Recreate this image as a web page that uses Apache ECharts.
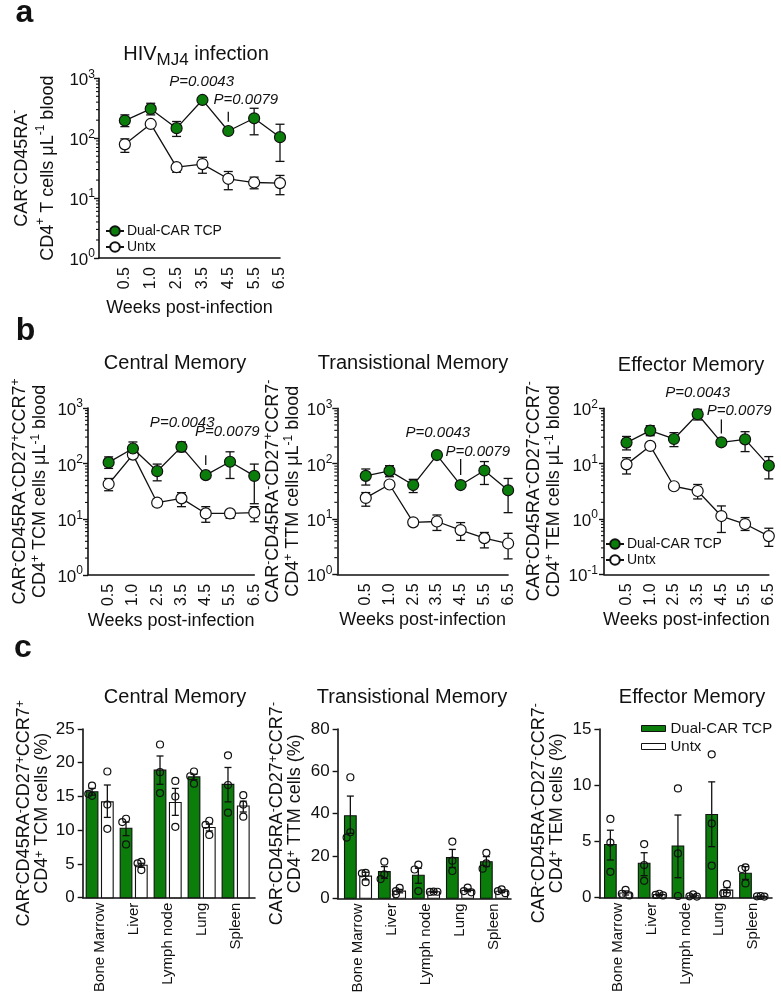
<!DOCTYPE html>
<html><head><meta charset="utf-8">
<script src="https://cdn.jsdelivr.net/npm/echarts@6/dist/echarts.min.js"></script>
<style>html,body{margin:0;padding:0;background:#fff}#c{width:781px;height:1000px}</style>
</head><body><div id="c"></div>
<script>
// ---------------- data ----------------
const weeks = ['0.5', '1.0', '2.5', '3.5', '4.5', '5.5', '6.5'];
const organs = ['Bone Marrow', 'Liver', 'Lymph node', 'Lung', 'Spleen'];
const pLabels = ['P=0.0043', 'P=0.0079'];

// a: HIV MJ4 infection, CAR- CD45RA- CD4+ T cells / uL blood (mean, SEM low, SEM high)
const aDual   = [197, 308, 147, 435, 132, 215, 104];
const aDualLo = [156, 245, 107, 405, 125, 114, 41];
const aDualHi = [245, 383, 190, 465, 140, 316, 171];
const aUntx   = [79, 173, 32.8, 37, 21, 18.2, 17.8];
const aUntxLo = [58, 160, 27, 26, 13.8, 14.3, 11.4];
const aUntxHi = [97.5, 188, 38, 48, 27.8, 22.4, 23.9];

// b: Central Memory
const bCmDual   = [105, 187, 73, 200, 62, 108, 60];
const bCmDualLo = [82, 132, 49, 163, 58, 54, 19];
const bCmDualHi = [132, 245, 98, 245, 66, 163, 98];
const bCmUntx   = [43, 145, 19.8, 23.7, 12.7, 12.7, 13.1];
const bCmUntxLo = [32.5, 135, 17, 16.8, 8.8, 10.4, 9];
const bCmUntxHi = [54, 155, 23, 30, 16.8, 14.2, 16.8];

// b: Transitional Memory
const bTmDual   = [60, 74, 41, 143, 41, 75, 33];
const bTmDualLo = [41, 58, 30, 134, 38, 42, 13];
const bTmDualHi = [80, 92, 52, 153, 44, 109, 54];
const bTmUntx   = [24, 42, 8.7, 9.0, 6.3, 4.5, 3.6];
const bTmUntxLo = [17, 38.5, 8.0, 6.2, 4.1, 3.0, 1.9];
const bTmUntxHi = [30, 45.5, 9.5, 11.8, 8.6, 5.7, 5.5];

// b: Effector Memory
const bEmDual   = [24, 39.5, 27.9, 78, 24.3, 27.5, 9.2];
const bEmDualLo = [17.7, 32, 20.3, 61.5, 22.8, 16.5, 5.3];
const bEmDualHi = [31, 48.6, 36.3, 96, 26, 37.8, 13.4];
const bEmUntx   = [9.7, 20.9, 3.9, 3.2, 1.13, 0.81, 0.49];
const bEmUntxLo = [6.5, 19.8, 3.7, 2.3, 0.57, 0.62, 0.32];
const bEmUntxHi = [12.8, 22, 4.1, 4.2, 1.72, 1.06, 0.68];

// c: Central Memory (% of CD4+)
const cCmDual   = [15.7, 10.3, 18.9, 17.9, 16.8];
const cCmDualLo = [15.2, 9.2, 16.8, 17.5, 14.2];
const cCmDualHi = [16.2, 11.2, 21.0, 18.3, 19.3];
const cCmDualPts = [[16.6, 15.1, 15.4], [11.7, 11.2, 7.9], [22.7, 18.6, 15.5], [18.7, 18.0, 16.9], [21.1, 16.7, 12.6]];
const cCmUntx   = [14.2, 4.8, 14.1, 10.4, 13.6];
const cCmUntxLo = [11.9, 4.5, 12.2, 9.9, 12.7];
const cCmUntxHi = [16.7, 5.1, 16.2, 10.9, 14.3];
const cCmUntxPts = [[18.7, 13.8, 10.2], [5.3, 5.1, 4.1], [17.3, 15.0, 10.5], [11.4, 10.8, 9.3], [15.2, 13.8, 12.0]];

// c: Transitional Memory
const cTmDual   = [39.0, 12.6, 10.9, 19.2, 17.3];
const cTmDualLo = [30.7, 9.4, 7.1, 14.6, 15.0];
const cTmDualHi = [48.3, 15.0, 14.2, 23.1, 19.7];
const cTmDualPts = [[57.2, 31.2, 28.7], [17.3, 11.3, 9.1], [15.9, 13.6, 3.4], [26.8, 17.8, 12.9], [21.5, 16.5, 14.0]];
const cTmUntx   = [10.5, 3.4, 3.1, 3.7, 3.3];
const cTmUntxLo = [8.7, 2.6, 2.8, 3.1, 2.7];
const cTmUntxHi = [12.3, 4.2, 3.4, 4.3, 3.9];
const cTmUntxPts = [[12.0, 11.8, 7.6], [4.9, 3.4, 1.9], [3.2, 3.0, 3.1], [5.0, 3.4, 2.8], [4.2, 3.4, 2.4]];

// c: Effector Memory
const cEmDual   = [4.73, 3.06, 4.6, 7.4, 2.17];
const cEmDualLo = [3.35, 1.96, 1.78, 4.54, 1.63];
const cEmDualHi = [6.0, 4.0, 7.35, 10.3, 2.76];
const cEmDualPts = [[7.0, 4.9, 2.3], [4.77, 2.9, 1.5], [9.72, 3.94, 0.15], [12.75, 6.6, 2.85], [2.7, 2.55, 1.27]];
const cEmUntx   = [0.42, 0.27, 0.17, 0.67, 0.12];
const cEmUntxLo = [0.24, 0.21, 0.09, 0.44, 0.09];
const cEmUntxHi = [0.6, 0.33, 0.25, 0.9, 0.15];
const cEmUntxPts = [[0.7, 0.35, 0.2], [0.35, 0.25, 0.2], [0.3, 0.12, 0.1], [1.2, 0.4, 0.4], [0.15, 0.12, 0.1]];

// ---------------- styling / helpers ----------------
const FONT = "'Liberation Sans', Arial, Helvetica, sans-serif";
const INK = '#111111';
const GREEN = '#0a7d0a';

function toRich(line) {
  let out = '', last = 0, m;
  const re = /\^\{([^}]*)\}/g;
  while ((m = re.exec(line))) {
    if (m.index > last) out += '{t|' + line.slice(last, m.index) + '}';
    out += '{s|' + m[1] + '}';
    last = re.lastIndex;
  }
  if (last < line.length) out += '{t|' + line.slice(last) + '}';
  return out;
}
function nameStyle(lh) {
  return {
    color: INK, fontFamily: FONT, fontSize: 18, lineHeight: lh,
    rich: {
      t: {color: INK, fontFamily: FONT, fontSize: 18, lineHeight: lh},
      s: {color: INK, fontFamily: FONT, fontSize: 12, lineHeight: lh - 10, verticalAlign: 'top'}
    }
  };
}
const axisLineStyle = {color: INK, width: 1.6};

const grids = [], xAxes = [], yAxes = [], series = [];

function errRender(cap) {
  return function (params, api) {
    const x = api.value(0);
    const pl = api.coord([x, api.value(1)]);
    const ph = api.coord([x, api.value(2)]);
    const st = {stroke: INK, lineWidth: 1.3};
    return {type: 'group', children: [
      {type: 'line', shape: {x1: pl[0], y1: pl[1], x2: ph[0], y2: ph[1]}, style: st},
      {type: 'line', shape: {x1: pl[0] - cap, y1: pl[1], x2: pl[0] + cap, y2: pl[1]}, style: st},
      {type: 'line', shape: {x1: ph[0] - cap, y1: ph[1], x2: ph[0] + cap, y2: ph[1]}, style: st}
    ]};
  };
}

function addTimePanel(p) {
  const gi = grids.length;
  grids.push(Object.assign({outerBoundsMode: 'none', containLabel: false}, p.grid));
  xAxes.push({
    type: 'value', gridIndex: gi, min: p.xMin, max: 6, interval: 0.05,
    axisLine: {show: true, onZero: false, lineStyle: axisLineStyle},
    axisTick: {show: false}, splitLine: {show: false}, minorTick: {show: false},
    axisLabel: {
      rotate: 90, margin: 9, fontSize: 16, color: INK, fontFamily: FONT,
      formatter: v => { const r = Math.round(v); return (Math.abs(v - r) < 1e-6 && r >= 0 && r < weeks.length) ? weeks[r] : ''; }
    },
    name: 'Weeks post-infection', nameLocation: 'middle', nameGap: p.xNameGap,
    nameTextStyle: {fontSize: 18, color: INK, fontFamily: FONT}
  });
  yAxes.push({
    type: 'log', logBase: 10, gridIndex: gi, min: p.yMin, max: p.yMax,
    axisLine: {show: true, onZero: false, lineStyle: axisLineStyle},
    axisTick: {show: true, length: 5, lineStyle: {color: INK, width: 1.4}},
    splitLine: {show: false},
    axisLabel: {
      margin: p.labelMargin, color: INK, fontFamily: FONT,
      formatter: v => '{b|10}{s|' + Math.round(Math.log10(v)) + '}',
      rich: {
        b: {fontSize: 17, color: INK, fontFamily: FONT, lineHeight: 20, padding: [5, 0, 0, 0]},
        s: {fontSize: 12, color: INK, fontFamily: FONT, lineHeight: 18, verticalAlign: 'top'}
      }
    },
    name: toRich(p.yName[0]) + '\n' + toRich(p.yName[1]),
    nameLocation: 'middle', nameRotate: 90, nameGap: p.nameGap,
    nameTextStyle: nameStyle(p.lh)
  });
  const idx = weeks.map((_, i) => i);
  // minor log ticks (axis decoration)
  const minor = [];
  for (let d = Math.round(Math.log10(p.yMin)); d < Math.round(Math.log10(p.yMax)); d++) {
    for (let k = 2; k <= 9; k++) minor.push([p.xMin, k * Math.pow(10, d)]);
  }
  series.push({
    type: 'custom', xAxisIndex: gi, yAxisIndex: gi, silent: true, z: 1, clip: false,
    encode: {x: 0, y: 1}, data: minor,
    renderItem: (params, api) => {
      const pt = api.coord([api.value(0), api.value(1)]);
      return {type: 'line', shape: {x1: pt[0] - 3, y1: pt[1], x2: pt[0], y2: pt[1]}, style: {stroke: INK, lineWidth: 1.1}};
    }
  });
  // error bars
  [[p.untxLo, p.untxHi], [p.dualLo, p.dualHi]].forEach(([lo, hi]) => {
    series.push({
      type: 'custom', xAxisIndex: gi, yAxisIndex: gi, silent: true, z: 2,
      encode: {x: 0, y: [1, 2]}, data: idx.map(i => [i, lo[i], hi[i]]),
      renderItem: errRender(4.5)
    });
  });
  series.push({
    type: 'line', name: 'Untx', xAxisIndex: gi, yAxisIndex: gi, silent: true, z: 3,
    data: p.untx.map((v, i) => [i, v]), symbol: 'circle', symbolSize: 11,
    itemStyle: {color: '#ffffff', borderColor: INK, borderWidth: 1.2},
    lineStyle: {color: INK, width: 1.3}, emphasis: {disabled: true}
  });
  series.push({
    type: 'line', name: 'Dual-CAR TCP', xAxisIndex: gi, yAxisIndex: gi, silent: true, z: 4,
    data: p.dual.map((v, i) => [i, v]), symbol: 'circle', symbolSize: 11,
    itemStyle: {color: GREEN, borderColor: INK, borderWidth: 1.2},
    lineStyle: {color: INK, width: 1.3}, emphasis: {disabled: true}
  });
  // p-value annotation
  series.push({
    type: 'custom', xAxisIndex: gi, yAxisIndex: gi, silent: true, z: 5, clip: false,
    encode: {x: 0, y: 1}, data: p.pText,
    renderItem: (params, api) => {
      const pt = api.coord([api.value(0), api.value(1)]);
      return {type: 'text', x: pt[0], y: pt[1], style: {
        text: pLabels[params.dataIndex], fontSize: 15, fontStyle: 'italic', fontFamily: FONT,
        fill: INK, align: 'center', verticalAlign: 'middle'}};
    }
  });
  series.push({
    type: 'custom', xAxisIndex: gi, yAxisIndex: gi, silent: true, z: 5, clip: false,
    encode: {x: 0, y: [1, 2]}, data: [p.pLine],
    renderItem: (params, api) => {
      const a = api.coord([api.value(0), api.value(1)]);
      const b = api.coord([api.value(0), api.value(2)]);
      return {type: 'line', shape: {x1: a[0], y1: a[1], x2: b[0], y2: b[1]}, style: {stroke: INK, lineWidth: 1.3}};
    }
  });
}

const BAR_W = 0.344, BAR_OFF = 0.225;

function dotData(pts, off, thr) {
  const out = [];
  pts.forEach((arr, i) => {
    const placed = [];
    arr.forEach(v => {
      const n = placed.filter(u => Math.abs(u - v) < thr).length;
      placed.push(v);
      out.push([i + 0.5 + off + [0, -0.11, 0.11, -0.2][Math.min(n, 3)], v]);
    });
  });
  return out;
}

function addBarPanel(p) {
  const gi = grids.length;
  grids.push(Object.assign({outerBoundsMode: 'none', containLabel: false}, p.grid));
  xAxes.push({
    type: 'value', gridIndex: gi, min: p.xMin, max: p.xMax, interval: 0.05,
    axisLine: {show: true, onZero: false, lineStyle: axisLineStyle},
    axisTick: {show: false}, splitLine: {show: false},
    axisLabel: {
      rotate: 90, margin: 5, fontSize: 15, color: INK, fontFamily: FONT,
      formatter: v => { const k = v - 0.5, r = Math.round(k); return (Math.abs(k - r) < 1e-6 && r >= 0 && r < organs.length) ? organs[r] : ''; }
    }
  });
  yAxes.push({
    type: 'value', gridIndex: gi, min: 0, max: p.yMax, interval: p.yInt,
    axisLine: {show: true, onZero: false, lineStyle: axisLineStyle},
    axisTick: {show: true, length: 5, lineStyle: {color: INK, width: 1.4}},
    splitLine: {show: false},
    axisLabel: {margin: 8, fontSize: 17, color: INK, fontFamily: FONT},
    name: toRich(p.yName[0]) + '\n' + toRich(p.yName[1]),
    nameLocation: 'middle', nameRotate: 90, nameGap: p.nameGap,
    nameTextStyle: nameStyle(p.lh)
  });
  const groups = [
    {mean: p.dual, lo: p.dualLo, hi: p.dualHi, pts: p.dualPts, off: -BAR_OFF, fill: GREEN},
    {mean: p.untx, lo: p.untxLo, hi: p.untxHi, pts: p.untxPts, off: BAR_OFF, fill: '#ffffff'}
  ];
  groups.forEach(g => {
    series.push({
      type: 'custom', xAxisIndex: gi, yAxisIndex: gi, silent: true, z: 2,
      encode: {x: 0, y: [1, 2, 3]},
      data: organs.map((_, i) => [i + 0.5 + g.off, g.mean[i], g.lo[i], g.hi[i]]),
      renderItem: (params, api) => {
        const x = api.value(0);
        const base = api.coord([x, 0]), top = api.coord([x, api.value(1)]);
        const w = api.size([BAR_W, 0])[0];
        const pl = api.coord([x, api.value(2)]), ph = api.coord([x, api.value(3)]);
        const st = {stroke: INK, lineWidth: 1.3}, cap = 3.5;
        return {type: 'group', children: [
          {type: 'rect', shape: {x: base[0] - w / 2, y: top[1], width: w, height: base[1] - top[1]},
            style: {fill: g.fill, stroke: INK, lineWidth: 1.1}},
          {type: 'line', shape: {x1: pl[0], y1: pl[1], x2: ph[0], y2: ph[1]}, style: st},
          {type: 'line', shape: {x1: pl[0] - cap, y1: pl[1], x2: pl[0] + cap, y2: pl[1]}, style: st},
          {type: 'line', shape: {x1: ph[0] - cap, y1: ph[1], x2: ph[0] + cap, y2: ph[1]}, style: st}
        ]};
      }
    });
  });
  groups.forEach(g => {
    series.push({
      type: 'custom', xAxisIndex: gi, yAxisIndex: gi, silent: true, z: 3, clip: false,
      encode: {x: 0, y: 1}, data: dotData(g.pts, g.off, p.yMax * 0.035),
      renderItem: (params, api) => {
        const pt = api.coord([api.value(0), api.value(1)]);
        return {type: 'circle', shape: {cx: pt[0], cy: pt[1], r: 3.5}, style: {fill: 'none', stroke: INK, lineWidth: 1.2}};
      }
    });
  });
}

// ---------------- panels ----------------
addTimePanel({
  grid: {left: 99, top: 78.3, width: 181, height: 179.7}, xMin: -1, yMin: 1, yMax: 1000,
  dual: aDual, dualLo: aDualLo, dualHi: aDualHi, untx: aUntx, untxLo: aUntxLo, untxHi: aUntxHi,
  yName: ['CAR^{-}CD45RA^{-}', 'CD4^{+} T cells \u03bcL^{-1} blood'], lh: 26, nameGap: 38, xNameGap: 41, labelMargin: 4,
  pText: [[2.97, 877], [4.68, 434]], pLine: [4, 188, 277]
});
addTimePanel({
  grid: {left: 88, top: 408, width: 166.3, height: 166.8}, xMin: -0.85, yMin: 1, yMax: 1000,
  dual: bCmDual, dualLo: bCmDualLo, dualHi: bCmDualHi, untx: bCmUntx, untxLo: bCmUntxLo, untxHi: bCmUntxHi,
  yName: ['CAR^{-}CD45RA^{-}CD27^{+}CCR7^{+}', 'CD4^{+} TCM cells \u03bcL^{-1} blood'], lh: 20, nameGap: 38, xNameGap: 37, labelMargin: 5,
  pText: [[3.03, 532], [4.89, 367]], pLine: [4, 94, 142]
});
addTimePanel({
  grid: {left: 337.3, top: 408.3, width: 170.8, height: 166}, xMin: -1.2, yMin: 1, yMax: 1000,
  dual: bTmDual, dualLo: bTmDualLo, dualHi: bTmDualHi, untx: bTmUntx, untxLo: bTmUntxLo, untxHi: bTmUntxHi,
  yName: ['CAR^{-}CD45RA^{-}CD27^{+}CCR7^{-}', 'CD4^{+} TTM cells \u03bcL^{-1} blood'], lh: 20, nameGap: 31, xNameGap: 37, labelMargin: 5,
  pText: [[3.04, 358], [4.72, 162]], pLine: [4, 62, 121]
});
addTimePanel({
  grid: {left: 604, top: 408.3, width: 164.8, height: 166}, xMin: -0.95, yMin: 0.1, yMax: 100,
  dual: bEmDual, dualLo: bEmDualLo, dualHi: bEmDualHi, untx: bEmUntx, untxLo: bEmUntxLo, untxHi: bEmUntxHi,
  yName: ['CAR^{-}CD45RA^{-}CD27^{-}CCR7^{-}', 'CD4^{+} TEM cells \u03bcL^{-1} blood'], lh: 20, nameGap: 40, xNameGap: 37, labelMargin: 6,
  pText: [[3.0, 191], [4.75, 90.6]], pLine: [4, 35, 63]
});
addBarPanel({
  grid: {left: 82.7, top: 729, width: 172.3, height: 168.7}, xMin: 0, xMax: 5.07, yMax: 25, yInt: 5,
  dual: cCmDual, dualLo: cCmDualLo, dualHi: cCmDualHi, dualPts: cCmDualPts,
  untx: cCmUntx, untxLo: cCmUntxLo, untxHi: cCmUntxHi, untxPts: cCmUntxPts,
  yName: ['CAR^{-}CD45RA^{-}CD27^{+}CCR7^{+}', 'CD4^{+} TCM cells (%)'], lh: 18.5, nameGap: 31
});
addBarPanel({
  grid: {left: 337.6, top: 729, width: 173.4, height: 169.3}, xMin: -0.1, xMax: 5.0, yMax: 80, yInt: 20,
  dual: cTmDual, dualLo: cTmDualLo, dualHi: cTmDualHi, dualPts: cTmDualPts,
  untx: cTmUntx, untxLo: cTmUntxLo, untxHi: cTmUntxHi, untxPts: cTmUntxPts,
  yName: ['CAR^{-}CD45RA^{-}CD27^{+}CCR7^{-}', 'CD4^{+} TTM cells (%)'], lh: 18.5, nameGap: 33
});
addBarPanel({
  grid: {left: 599.4, top: 729, width: 172.6, height: 168.7}, xMin: -0.05, xMax: 5.06, yMax: 15, yInt: 5,
  dual: cEmDual, dualLo: cEmDualLo, dualHi: cEmDualHi, dualPts: cEmDualPts,
  untx: cEmUntx, untxLo: cEmUntxLo, untxHi: cEmUntxHi, untxPts: cEmUntxPts,
  yName: ['CAR^{-}CD45RA^{-}CD27^{-}CCR7^{-}', 'CD4^{+} TEM cells (%)'], lh: 18.5, nameGap: 33
});

// ---------------- free text ----------------
function txt(x, y, text, size, extra) {
  return {type: 'text', x: x, y: y, silent: true, z: 10,
    style: Object.assign({text: text, fontSize: size, fontFamily: FONT, fill: INK, align: 'center', verticalAlign: 'middle'}, extra || {})};
}
const graphics = [
  txt(24.5, 13.5, 'a', 32, {fontWeight: 'bold'}),
  txt(25.5, 331, 'b', 32, {fontWeight: 'bold'}),
  txt(23, 648.5, 'c', 32, {fontWeight: 'bold'}),
  txt(196, 54, '{m|HIV}{sub|MJ4}{m| infection}', 20, {rich: {
    m: {fontSize: 20, fontFamily: FONT, fill: INK, lineHeight: 30},
    sub: {fontSize: 17, fontFamily: FONT, fill: INK, lineHeight: 18, verticalAlign: 'bottom'}}}),
  txt(175, 363, 'Central Memory', 20),
  txt(413, 363, 'Transistional Memory', 20),
  txt(691, 365, 'Effector Memory', 20),
  txt(175, 697, 'Central Memory', 20),
  txt(412, 697, 'Transistional Memory', 20),
  txt(692, 697, 'Effector Memory', 20)
];

const lineLegend = (left, top) => ({
  left: left, top: top, orient: 'vertical', padding: 0, itemGap: 2, itemWidth: 18, itemHeight: 12,
  selectedMode: false, data: ['Dual-CAR TCP', 'Untx'],
  textStyle: {fontSize: 14, color: INK, fontFamily: FONT, padding: [0, 0, 0, -2]}
});

const chart = echarts.init(document.getElementById('c'), null, {renderer: 'canvas'});
chart.setOption({
  animation: false,
  backgroundColor: '#ffffff',
  textStyle: {fontFamily: FONT, color: INK},
  grid: grids, xAxis: xAxes, yAxis: yAxes, series: series,
  legend: [
    lineLegend(105, 224),
    lineLegend(605, 537),
    {
      left: 641, top: 721, orient: 'vertical', padding: 0, itemGap: 3, itemWidth: 24, itemHeight: 6,
      selectedMode: false,
      data: [
        {name: 'Dual-CAR TCP', icon: 'rect', itemStyle: {color: GREEN, borderColor: INK, borderWidth: 1}},
        {name: 'Untx', icon: 'rect', itemStyle: {color: '#ffffff', borderColor: INK, borderWidth: 1}}
      ],
      textStyle: {fontSize: 15, color: INK, fontFamily: FONT}
    }
  ],
  graphic: graphics
});
</script>
</body></html>
